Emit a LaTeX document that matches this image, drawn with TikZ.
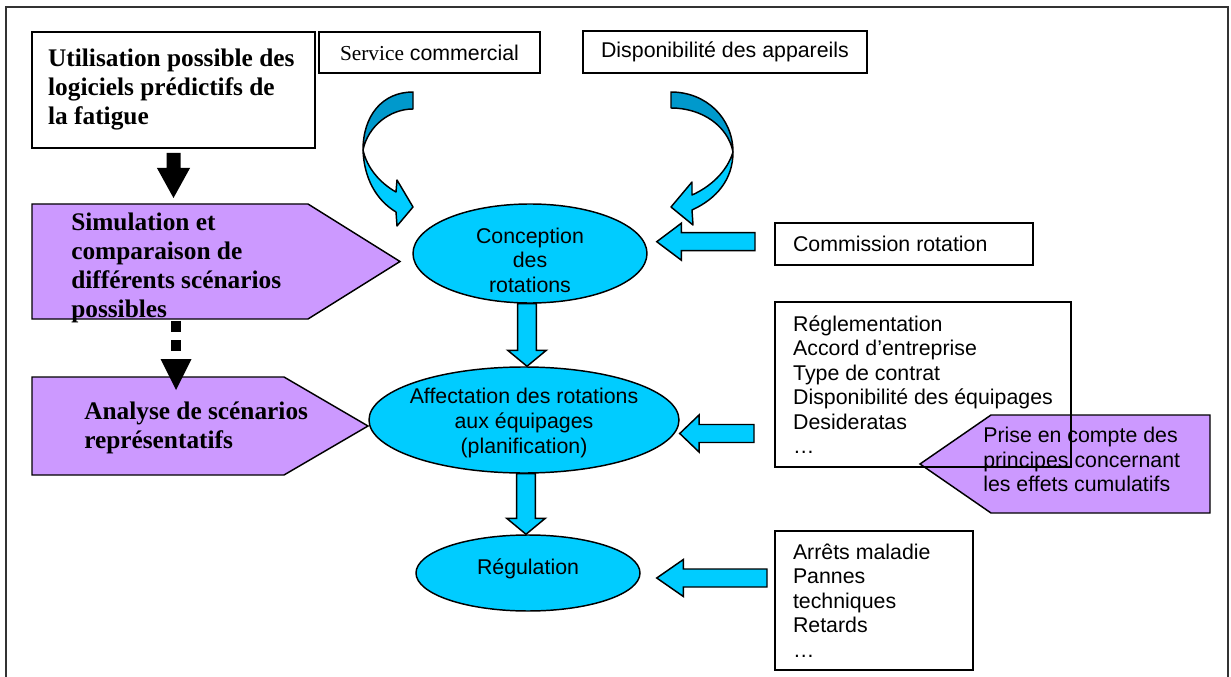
\documentclass[tikz,border=0pt]{standalone}
\usepackage{fontspec}
\setmainfont{Liberation Serif}
\newfontfamily\arial{Liberation Sans}
\usetikzlibrary{calc,shapes.geometric}

\definecolor{skyfill}{RGB}{0,204,255}
\definecolor{skyback}{RGB}{0,153,204}
\definecolor{lilac}{RGB}{204,153,255}

\tikzset{
  sans/.style={font=\arial\fontsize{16}{18.4}\selectfont},
  serifbold/.style={font=\bfseries\fontsize{19}{21.75}\selectfont},
  box/.style={draw, line width=1.5pt, inner ysep=0pt, align=flush left},
  oval/.style={ellipse, draw, line width=1.1pt, fill=skyfill, inner sep=0pt},
  ovaltext/.style={sans, align=center, inner sep=0pt},
  tag/.style={fill=lilac, draw, line width=1.1pt, line join=miter},
  ribbonback/.style={fill=skyback, draw, line width=1.1pt, line join=round},
  ribbonfront/.style={fill=skyfill, draw, line width=1.1pt, line join=round},
  % cyan block arrow pointing down, axis halfway between both ends
  blockdown/.style={fill=skyfill, draw, line width=1.1pt, to path={
      let \p1=(\tikztostart), \p2=(\tikztotarget), \p3=($(\p1)!.5!(\p2)$) in
      (\x3-7.1pt,\y1) -- (\x3-7.1pt,\y2+12pt) -- (\x3-14.5pt,\y2+12pt) -- (\x3,\y2)
      -- (\x3+14.5pt,\y2+12pt) -- (\x3+7.1pt,\y2+12pt) -- (\x3+7.1pt,\y1) -- cycle}},
  % cyan block arrow pointing left, tip at the target's x
  blockleft/.style={fill=skyfill, draw, line width=1.1pt, to path={
      let \p1=(\tikztostart), \p2=(\tikztotarget) in
      (\x1,\y1+6.75pt) -- (\x2+#1,\y1+6.75pt) -- (\x2+#1,\y1+13.9pt) -- (\x2,\y1)
      -- (\x2+#1,\y1-13.9pt) -- (\x2+#1,\y1-6.75pt) -- (\x1,\y1-6.75pt) -- cycle}},
  blockleft/.default=18.5pt,
  % plain black arrow pointing down
  blackdown/.style={fill=black, to path={
      let \p1=(\tikztostart), \p2=(\tikztotarget) in
      (\x1-5.25pt,\y1) -- (\x1-5.25pt,\y2+22.5pt) -- (\x1-12.4pt,\y2+22.5pt) -- (\x1,\y2)
      -- (\x1+12.4pt,\y2+22.5pt) -- (\x1+5.25pt,\y2+22.5pt) -- (\x1+5.25pt,\y1) -- cycle}},
}

\begin{document}
\begin{tikzpicture}[x=0.75pt, y=-0.75pt]
    \useasboundingbox (0,0) rectangle (1231,677);
    \draw[line width=1.5pt, black!80] (6,7) rectangle (1228,700);

    % boxes along the top
    \node[box, serifbold, minimum width=212.25pt, minimum height=87pt,
          text width=188pt, inner xsep=12pt] (util) at (173.5,90)
        {Utilisation possible des\\logiciels prédictifs de\\la fatigue};
    \node[box, sans, minimum width=165.75pt, minimum height=30.75pt] (svc) at (429.5,52.5)
        {{\rmfamily Service} commercial};
    \node[box, sans, minimum width=213pt, minimum height=31.5pt] (dispo) at (725,52)
        {Disponibilité des appareils};

    % curved arrows feeding the design of rotations
    \filldraw[ribbonback] (413,92) .. controls (382,92) and (363,116) .. (363,150)
        .. controls (368,126) and (390,109) .. (413,109) -- cycle;
    \filldraw[ribbonfront] (363,150) .. controls (364,178) and (376,200) .. (396,212)
        -- (397,226) -- (413,207) -- (397,180) -- (396,192)
        .. controls (380,183) and (367,168) .. (363,150) -- cycle;
    \filldraw[ribbonback] (671,92) .. controls (706,92) and (733,118) .. (733,152)
        .. controls (728,126) and (702,108) .. (671,108) -- cycle;
    \filldraw[ribbonfront] (733,152) .. controls (733,180) and (716,199) .. (692,210)
        -- (693,225) -- (671,207) -- (692,182) -- (692,195)
        .. controls (710,187) and (727,172) .. (733,152) -- cycle;

    % the three stages
    \node[oval, minimum width=175.5pt, minimum height=74.25pt] (conc) at (530,253.5) {};
    \node[ovaltext] (conctext) at (530,260) {Conception\\des\\rotations};
    \node[oval, minimum width=232.5pt, minimum height=79.5pt] (aff) at (524,420) {};
    \node[ovaltext] (afftext) at (524,423)
        {Affectation des rotations\\aux équipages\\(planification)};
    \node[oval, minimum width=168pt, minimum height=57pt] (reg) at (528,573) {};
    \node[ovaltext] (regtext) at (528,569) {Régulation};

    \path[blockdown] (conc.south) to (aff.north);
    \path[blockdown] (aff.south) to (reg.north);

    % inputs on the right
    \node[box, sans, minimum width=193.5pt, minimum height=31.5pt,
          text width=166.5pt, inner xsep=13.5pt] (comm) at (904,244) {Commission rotation};
    \filldraw[tag] (920,464) -- (991,415) -- (1210,415) -- (1210,513) -- (991,513) -- cycle;
    \node[box, sans, minimum width=222pt, minimum height=123.75pt] (regl) at (923,384.5)
        {Réglementation\\Accord d’entreprise\\Type de contrat\\Disponibilité des équipages\\Desideratas\\…};
    \node[sans, anchor=north west, align=left, inner sep=0pt] (prise) at (983,427)
        {Prise en compte des\\principes concernant\\les effets cumulatifs};
    \node[box, sans, minimum width=148.5pt, minimum height=104.25pt,
          text width=121.5pt, inner xsep=13.5pt] (arrets) at (874,600.5)
        {Arrêts maladie\\Pannes\\techniques\\Retards\\…};

    \coordinate (commtail) at (755,241.7);
    \coordinate (regltail) at (754,433.5);
    \coordinate (arretstail) at (767,578);
    \path[blockleft] (commtail) to ([xshift=6.75pt]conc.east);
    \path[blockleft=14.5pt] (regltail) to (aff.east);
    \path[blockleft=20pt] (arretstail) to ([xshift=12pt]reg.east);

    % fatigue tools on the left
    \filldraw[tag] (32,204) -- (308,204) -- (400,261.5) -- (308,319) -- (32,319) -- cycle;
    \node[serifbold, anchor=north west, align=left, inner sep=0pt] (simtext) at (71,213)
        {Simulation et\\comparaison de\\différents scénarios\\possibles};
    \filldraw[tag] (32,377) -- (284,377) -- (368,426) -- (284,475) -- (32,475) -- cycle;
    \node[serifbold, anchor=north west, align=left, inner sep=0pt] (anatext) at (84,401.5)
        {Analyse de scénarios\\représentatifs};

    \coordinate (simin) at (173.5,198);
    \coordinate (simout) at (176,321);
    \coordinate (anain) at (176,390);
    \path[blackdown] ([yshift=-3pt]util.south) to (simin);
    \draw[line width=7.5pt, dash pattern=on 8.25pt off 6pt] (simout) -- ([yshift=23.25pt]anain);
    \fill (anain) -- ++(-15.5,-31) -- ++(31,0) -- cycle;
\end{tikzpicture}
\end{document}
